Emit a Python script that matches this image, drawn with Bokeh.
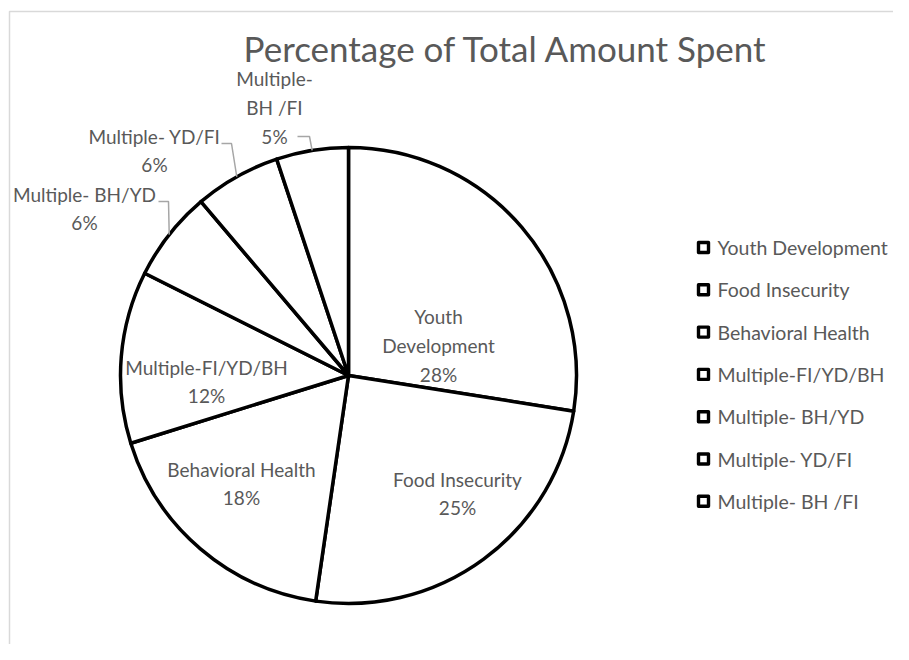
import numpy as np
from bokeh.plotting import figure
from bokeh.models import Range1d, ColumnDataSource
from bokeh.core.properties import value
from bokeh.embed import file_html
from bokeh.resources import INLINE

# ---------------- data ----------------
title_text = "Percentage of Total Amount  Spent"
categories = [" Youth Development", "Food Insecurity", "Behavioral Health",
              "Multiple-FI/YD/BH", "Multiple- BH/YD", "Multiple- YD/FI",
              "Multiple- BH /FI"]
slice_labels = ["Youth\nDevelopment", "Food Insecurity", "Behavioral Health",
                "Multiple-FI/YD/BH", "Multiple- BH/YD", "Multiple- YD/FI",
                "Multiple-\nBH /FI"]
shares = [27.5, 24.8, 17.9, 12.2, 6.4, 6.1, 5.1]

# ---------------- layout (picture pixel coordinates) ----------------
W, H = 893, 644
FONT = "Lato"
TXT = "#595959"
cx, cy, R = 348, 375, 228
# label block centres
label_xy = [(438, 345), (457, 493), (241, 483), (206, 381),
            (84, 208), (154, 150), (274, 107)]
# leader line elbows for outside labels
leaders = {4: [(158, 201), (168, 201)],
           5: [(221, 143), (231, 143)],
           6: [(297, 136), (309, 136)]}
legend_x, legend_y0, legend_dy = 703, 247, 42.3

def Y(py):
    return -py

p = figure(width=W, height=H, output_backend="svg", toolbar_location=None,
           x_range=Range1d(0, W), y_range=Range1d(-H, 0),
           x_axis_location=None, y_axis_location=None, min_border=0)
p.grid.visible = False
p.outline_line_color = None
p.background_fill_color = "white"
p.border_fill_color = "white"

# chart border (left and top visible)
p.line(x=[9, 9, W], y=[Y(H), Y(11), Y(11)], line_color="#d9d9d9", line_width=1.5)

# wedges
vals = np.array(shares, dtype=float)
frac = vals / vals.sum()
cum_end = np.cumsum(frac)
cum_start = cum_end - frac
start_angle = np.pi / 2 - 2 * np.pi * cum_end
end_angle = np.pi / 2 - 2 * np.pi * cum_start
mid = (start_angle + end_angle) / 2
src = ColumnDataSource(dict(start=start_angle, end=end_angle))
p.wedge(x=cx, y=Y(cy), radius=R, radius_units="screen", start_angle="start",
        end_angle="end", source=src, fill_color="white", line_color="black",
        line_width=3.5, line_join="round")

# leader lines
for i, pts in leaders.items():
    ex = cx + R * np.cos(mid[i])
    ey = Y(cy) + R * np.sin(mid[i])
    xs = [pt[0] for pt in pts] + [ex]
    ys = [Y(pt[1]) for pt in pts] + [ey]
    p.line(x=xs, y=ys, line_color="#a6a6a6", line_width=1.5)

# data labels
pct = [f"{round(v / vals.sum() * 100)}%" for v in vals]
texts = [f"{s}\n{q}" for s, q in zip(slice_labels, pct)]
p.text(x=[xy[0] for xy in label_xy], y=[Y(xy[1]) for xy in label_xy], text=texts,
       text_font=value(FONT), text_font_size="19px", text_color=TXT,
       text_align="center", text_baseline="middle", text_line_height=1.25)

# title
p.text(x=[510], y=[Y(47)], text=[title_text], text_font=value(FONT),
       text_font_size="35px", text_color=TXT, text_align="center",
       text_baseline="middle")

# legend
ly = [Y(legend_y0 + k * legend_dy) for k in range(len(categories))]
p.scatter(x=[legend_x] * len(categories), y=ly, marker="square", size=10,
          fill_color="white", line_color="black", line_width=3.4,
          line_join="round")
p.text(x=[legend_x + 14] * len(categories), y=ly, text=categories,
       text_font=value(FONT), text_font_size="19.5px", text_color=TXT,
       text_align="left", text_baseline="middle")

open("out.html", "w").write(file_html(p, INLINE))
